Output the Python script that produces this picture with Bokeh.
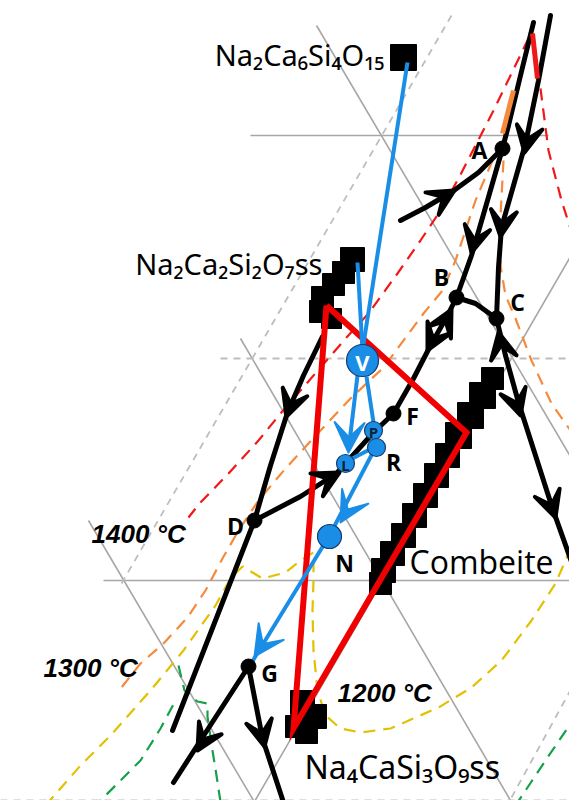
from bokeh.plotting import figure
from bokeh.models import Range1d, Arrow, VeeHead, ColumnDataSource
from bokeh.core.properties import value
from bokeh.embed import file_html
from bokeh.resources import INLINE

# ---------------- data (diagram coordinates, y grows downward) ----------------
grid_solid_xs = [[250, 548], [103, 577], [316, 577], [240, 510], [88, 253], [250, 577]]
grid_solid_ys = [[135, 135], [580, 580], [25, 468], [338, 800], [520, 800], [808, 244]]
grid_dash_xs = [[220, 577], [0, 577], [451, 121], [577, 511]]
grid_dash_ys = [[358, 358], [800, 800], [15, 583], [677, 797]]

red_left_x = [528, 510, 492, 475, 458, 440, 420, 397, 368, 346, 320, 280, 258, 228, 199, 188]
red_left_y = [38, 75, 112, 145, 178, 210, 240, 273, 313, 337, 367, 413, 440, 473, 503, 517]
red_right_x = [540, 548, 561, 577]
red_right_y = [88, 150, 200, 250]
red_solid_x = [532, 537]
red_solid_y = [33, 78]

orange_solid_x = [513, 502]
orange_solid_y = [90, 133]
orange_left_x = [492, 475, 455, 442, 423, 383, 350, 320, 285, 258, 238, 222, 205, 187, 163, 140, 117]
orange_left_y = [160, 200, 260, 290, 313, 367, 398, 430, 468, 500, 530, 558, 590, 617, 643, 663, 692]
orange_right_x = [503, 500, 500, 505, 515, 531, 551, 577]
orange_right_y = [160, 215, 265, 295, 318, 360, 403, 440]

yellow_x = [45, 80, 110, 150, 183, 215, 230, 242, 262, 285, 300, 313, 313, 312, 313, 317, 325,
            340, 360, 390, 438, 471, 501, 531, 555, 568, 577]
yellow_y = [805, 765, 735, 690, 650, 605, 578, 566, 578, 572, 560, 552, 580, 610, 650, 690, 715,
            728, 732, 728, 707, 687, 660, 620, 583, 553, 532]

green1_x = [92, 140, 160, 174]
green1_y = [808, 760, 728, 702]
green2_x = [178, 184, 197, 207, 207, 212, 216, 221]
green2_y = [665, 690, 701, 703, 716, 750, 775, 808]
green3_x = [577, 545, 513]
green3_y = [713, 760, 808]

black_xs = [
    [533, 520, 508, 502],
    [550, 538, 525, 513, 501, 498, 496],
    [502, 487, 471, 456],
    [400, 425, 452, 478, 502],
    [456, 475, 496],
    [496, 505, 518, 535, 552, 577],
    [456, 447, 430, 413, 393, 373, 345, 336, 300, 254],
    [322, 303, 287, 270, 254],
    [254, 172],
    [248, 200, 173],
    [248, 262, 285],
]
black_ys = [
    [22, 75, 125, 148],
    [15, 80, 143, 185, 227, 267, 318],
    [148, 200, 255, 297],
    [220, 207, 191, 172, 148],
    [297, 303, 318],
    [318, 355, 402, 455, 508, 578],
    [297, 315, 345, 378, 413, 432, 463, 473, 496, 520],
    [336, 375, 412, 465, 520],
    [520, 730],
    [666, 740, 782],
    [666, 738, 808],
]

arrow_x0 = [425, 478, 530, 504, 440, 438, 503, 512, 546, 295, 315, 210, 258]
arrow_y0 = [207, 222, 122, 205, 330, 328, 356, 388, 490, 390, 485, 727, 718]
arrow_x1 = [454, 471, 524, 500, 451, 427, 498, 520, 555, 286, 339, 197, 264]
arrow_y1 = [190, 252, 152, 236, 309, 350, 332, 415, 517, 416, 472, 750, 746]

dot_names = ["A", "B", "C", "F", "D", "G"]
dot_x = [502, 456, 496, 393, 254, 248]
dot_y = [148, 297, 318, 413, 520, 666]
label_x = [479, 441, 517, 412, 235, 269]
label_y = [149, 276, 301, 415, 525, 672]

tri_x = [326, 466, 293, 326]
tri_y = [305, 432, 728, 305]

phase_sq_x = [403, 352, 343, 333, 322, 320, 331,
              492, 482, 470, 458, 447, 436, 425, 414, 403, 392, 383, 380,
              302, 314, 296, 306]
phase_sq_y = [57, 259, 272, 284, 297, 311, 318,
              378, 395, 415, 435, 455, 475, 495, 515, 535, 553, 570, 583,
              702, 716, 726, 732]
phase_sq_s = [26, 24, 22, 22, 22, 22, 20,
              22, 26, 26, 26, 24, 24, 24, 24, 24, 24, 24, 22,
              24, 24, 22, 22]

blue_xs = [[407, 362], [357, 362], [357, 348], [366, 373], [348, 375], [375, 329], [329, 250]]
blue_ys = [[62, 350], [262, 350], [375, 450], [376, 422], [460, 446], [447, 535], [535, 664]]
blue_arrow_x0 = [349, 354, 278]
blue_arrow_y0 = [425, 497, 620]
blue_arrow_x1 = [348, 340, 254]
blue_arrow_y1 = [452, 522, 656]

pt_names = ["V", "P", "R", "L", "N"]
pt_x = [362, 373, 376, 345, 329]
pt_y = [360, 430, 447, 463, 536]
pt_r = [16, 9, 9, 9, 12]

formula_text = ["Na₂Ca₆Si₄O₁₅", "Na₂Ca₂Si₂O₇ss", "Na₄CaSi₃O₉ss"]
formula_x = [384, 322, 304]
formula_y = [54, 263, 766]
formula_align = ["right", "right", "left"]
formula_size = ["29px", "29px", "32px"]

temp_text = ["1400 °C", "1300 °C", "1200 °C"]
temp_x = [91, 43, 337]
temp_y = [533, 667, 692]

# ---------------- figure ----------------
p = figure(width=569, height=800, x_range=Range1d(0, 569), y_range=Range1d(800, 0),
           toolbar_location=None, output_backend="svg", min_border=0)
p.axis.visible = False
p.grid.visible = False
p.outline_line_color = None
p.background_fill_color = "white"

p.multi_line(grid_solid_xs, grid_solid_ys, line_color="#a6a6a6", line_width=1.6)
p.multi_line(grid_dash_xs, grid_dash_ys, line_color="#bdbdbd", line_width=1.8, line_dash="7 6")

p.line(red_left_x, red_left_y, line_color="#f01818", line_width=2.2, line_dash="12 8")
p.line(red_right_x, red_right_y, line_color="#f01818", line_width=2.2, line_dash="12 8")
p.line(orange_left_x, orange_left_y, line_color="#f58a3c", line_width=2.2, line_dash="12 8")
p.line(orange_right_x, orange_right_y, line_color="#f58a3c", line_width=2.2, line_dash="12 8")
p.line(yellow_x, yellow_y, line_color="#e2c100", line_width=2.2, line_dash="12 8")
p.line(green1_x, green1_y, line_color="#17a04a", line_width=2.2, line_dash="12 8")
p.line(green2_x, green2_y, line_color="#17a04a", line_width=2.2, line_dash="12 8")
p.line(green3_x, green3_y, line_color="#17a04a", line_width=2.2, line_dash="12 8")

p.multi_line(black_xs, black_ys, line_color="black", line_width=5, line_cap="round")
p.line(orange_solid_x, orange_solid_y, line_color="#f58a3c", line_width=5)
p.line(red_solid_x, red_solid_y, line_color="#f01818", line_width=5)

asrc = ColumnDataSource(dict(x0=arrow_x0, y0=arrow_y0, x1=arrow_x1, y1=arrow_y1))
p.add_layout(Arrow(end=VeeHead(size=26, fill_color="black", line_color="black", line_width=4,
                               line_join="round"),
                   x_start="x0", y_start="y0", x_end="x1", y_end="y1",
                   source=asrc, line_alpha=0))

p.scatter(phase_sq_x, phase_sq_y, size=phase_sq_s, marker="square",
          fill_color="black", line_color="black")

p.line(tri_x, tri_y, line_color="#f00000", line_width=6, line_join="miter")

p.multi_line(blue_xs, blue_ys, line_color="#1a8ee6", line_width=4)
bsrc = ColumnDataSource(dict(x0=blue_arrow_x0, y0=blue_arrow_y0, x1=blue_arrow_x1, y1=blue_arrow_y1))
p.add_layout(Arrow(end=VeeHead(size=30, fill_color="#1a8ee6", line_color="#1a8ee6", line_width=2,
                               line_join="round"),
                   x_start="x0", y_start="y0", x_end="x1", y_end="y1",
                   source=bsrc, line_alpha=0))

p.scatter(pt_x, pt_y, size=[2 * r for r in pt_r], marker="circle",
          fill_color="#1a8ee6", line_color="#143c6e", line_width=1.2)
p.scatter(dot_x, dot_y, size=15, marker="circle", fill_color="black", line_color="black")

# letters in circles
p.text([pt_x[0]], [pt_y[0] + 1], text=[pt_names[0]], text_align="center", text_baseline="middle",
       text_color="white", text_font=value("Open Sans"), text_font_style="bold",
       text_font_size=value("22px"))
p.text([pt_x[1], pt_x[3]], [pt_y[1] + 1, pt_y[3] + 1], text=[pt_names[1], pt_names[3]],
       text_align="center", text_baseline="middle", text_color="#0d2238",
       text_font=value("Open Sans"), text_font_style="bold", text_font_size=value("15px"))
p.text([393], [461], text=[pt_names[2]], text_align="center", text_baseline="middle",
       text_color="black", text_font=value("Open Sans"), text_font_style="bold",
       text_font_size=value("23px"))
p.text([344], [562], text=[pt_names[4]], text_align="center", text_baseline="middle",
       text_color="black", text_font=value("Open Sans"), text_font_style="bold",
       text_font_size=value("23px"))

p.text(label_x, label_y, text=dot_names, text_align="center", text_baseline="middle",
       text_color="black", text_font=value("Open Sans"), text_font_style="bold",
       text_font_size=value("23px"))

for t, x, y, a, s in zip(formula_text, formula_x, formula_y, formula_align, formula_size):
    p.text([x], [y], text=[t], text_align=a, text_baseline="middle", text_color="black",
           text_font=value("Noto Sans"), text_font_size=value(s))

p.text([409], [561], text=["Combeite"], text_align="left", text_baseline="middle",
       text_color="black", text_font=value("Open Sans"), text_font_size=value("32px"))

p.text(temp_x, temp_y, text=temp_text, text_align="left", text_baseline="middle",
       text_color="black", text_font=value("Liberation Sans"), text_font_style="bold italic",
       text_font_size=value("26px"))

open("out.html", "w").write(file_html(p, INLINE))
